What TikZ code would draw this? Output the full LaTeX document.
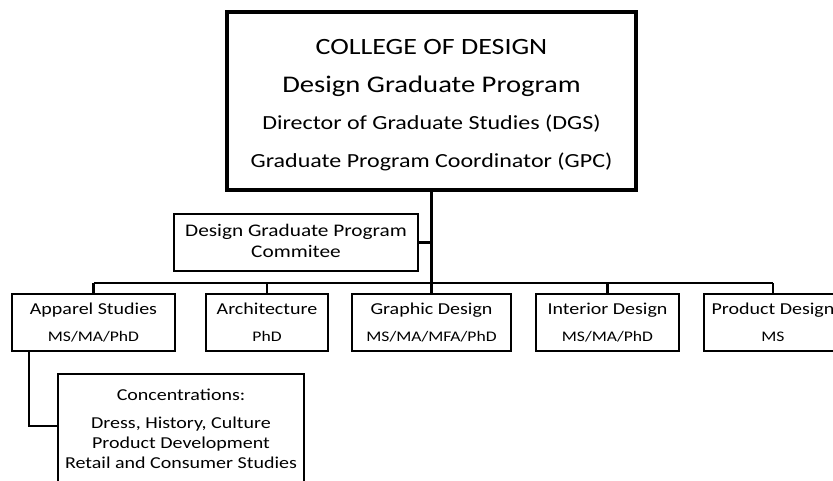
\documentclass[tikz,border=0pt]{standalone}
\usepackage{fontspec}
\setmainfont{Carlito}[FakeStretch=1.2]
\begin{document}
\begin{tikzpicture}[x=0.75pt,y=-0.75pt,
  bigbox/.style={draw, line width=2.5pt, inner sep=0pt},
  box/.style={draw, line width=2.1pt, inner sep=0pt},
  deptbox/.style={box, minimum height=42.75pt},
  wire/.style={line width=2pt},
  txt/.style={anchor=base, inner sep=0pt, text=black},
  headA/.style={txt, font=\fontsize{17.5pt}{20pt}\selectfont},
  headW/.style={txt, font=\fontsize{17.9pt}{20pt}\selectfont},
  headB/.style={txt, font=\fontsize{15pt}{18pt}\selectfont},
  comtxt/.style={txt, font=\fontsize{13.3pt}{16pt}\selectfont},
  depA/.style={txt, font=\fontsize{12.5pt}{15pt}\selectfont},
  depB/.style={txt, font=\fontsize{11pt}{13pt}\selectfont},
]
\useasboundingbox (0,0) rectangle (833,481);
\clip (0,0) rectangle (833,481);

% boxes
\node[bigbox, minimum width=306.75pt, minimum height=133.5pt] (top) at (431.5,101) {};
\node[box, minimum width=183pt, minimum height=42.75pt] (com) at (296,242.5) {};
\node[deptbox, minimum width=122.25pt] (app) at (93.5,322.5) {};
\node[deptbox, minimum width=91.5pt] (arch) at (267,322.5) {};
\node[deptbox, minimum width=119.25pt] (gra) at (431.5,322.5) {};
\node[deptbox, minimum width=107.25pt] (int) at (607.5,322.5) {};
\node[deptbox, minimum width=103.5pt] (prod) at (773,322.5) {};
\node[box, minimum width=184.5pt, minimum height=84pt] (conc) at (181,430) {};

% bus line
\coordinate (busL) at (93.5,283);
\coordinate (busR) at (773,283);
\draw[wire] (busL) -- (busR);
\draw[wire] (top.south) -- (top.south |- busL);
\draw[wire] (com.east) -- (com.east -| top.south);
\foreach \d in {app,arch,gra,int,prod}
  \draw[wire] (\d.north) -- (\d.north |- busL);
\draw[wire] ([xshift=-48.5pt]app.south) |- ([yshift=3pt]conc.west);

% texts
\node[headA] (t1) at (431.5,55) {COLLEGE OF DESIGN};
\node[headW] (t2) at (431.5,93) {Design Graduate Program};
\node[headB] (t3) at (431.5,130) {Director of Graduate Studies (DGS)};
\node[headB] (t4) at (431.5,168) {Graduate Program Coordinator (GPC)};

\node[comtxt] (c1) at (296,237) {Design Graduate Program};
\node[comtxt] (c2) at (296,258) {Commitee};

\node[depA] (a1) at (93.5,315) {Apparel Studies};
\node[depB] (a2) at (93.5,342) {MS/MA/PhD};
\node[depA] (r1) at (267,315) {Architecture};
\node[depB] (r2) at (267,342) {PhD};
\node[depA] (g1) at (431.5,315) {Graphic Design};
\node[depB] (g2) at (431.5,342) {MS/MA/MFA/PhD};
\node[depA] (i1) at (607.5,315) {Interior Design};
\node[depB] (i2) at (607.5,342) {MS/MA/PhD};
\node[depA] (p1) at (773,315) {Product Design};
\node[depB] (p2) at (773,342) {MS};

\node[depA] (k1) at (181,401) {Concentrations:};
\node[depA] (k2) at (181,428) {Dress, History, Culture};
\node[depA] (k3) at (181,448) {Product Development};
\node[depA] (k4) at (181,468) {Retail and Consumer Studies};
\end{tikzpicture}
\end{document}
